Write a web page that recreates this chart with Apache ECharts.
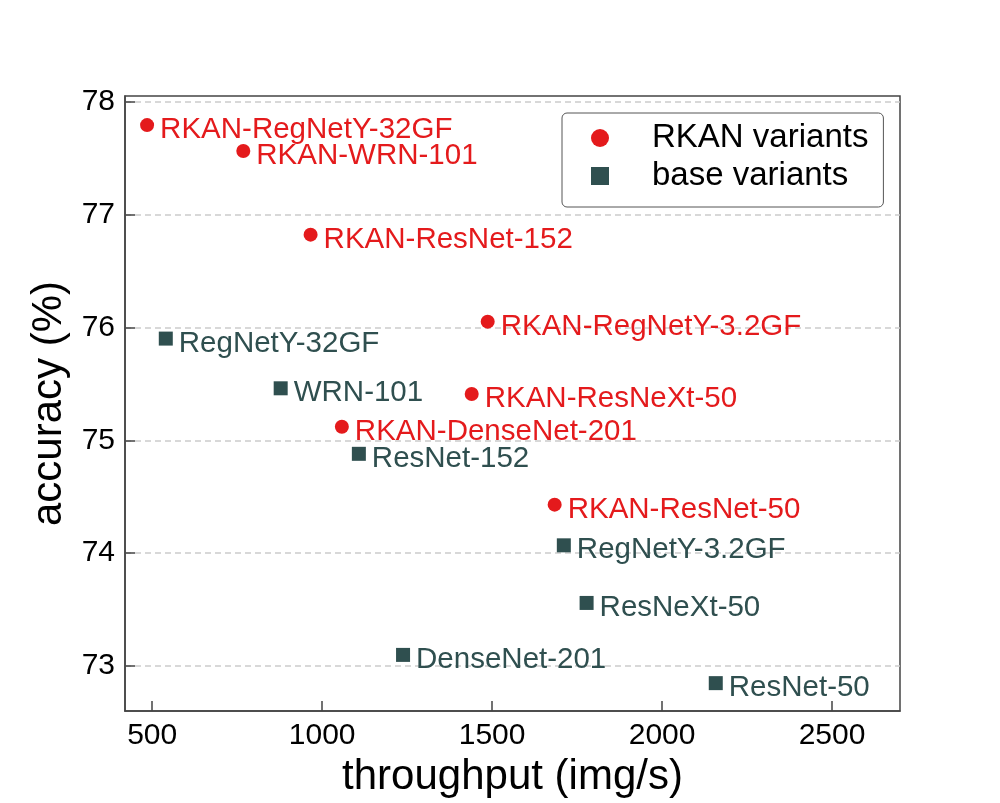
<!DOCTYPE html>
<html>
<head>
<meta charset="utf-8">
<script src="https://cdn.jsdelivr.net/npm/echarts@6/dist/echarts.min.js"></script>
<style>
html, body { margin: 0; padding: 0; background: #fff; }
#main { width: 1000px; height: 803px; }
</style>
</head>
<body>
<div id="main"></div>
<script>
// RKAN variants
var RKAN_NAMES = ['RKAN-RegNetY-32GF', 'RKAN-WRN-101', 'RKAN-ResNet-152', 'RKAN-RegNetY-3.2GF',
    'RKAN-ResNeXt-50', 'RKAN-DenseNet-201', 'RKAN-ResNet-50'];
var RKAN_THROUGHPUT = [485, 768, 966, 1487, 1440, 1058, 1684];
var RKAN_ACCURACY = [77.79, 77.56, 76.82, 76.05, 75.41, 75.12, 74.43];

// base variants
var BASE_NAMES = ['RegNetY-32GF', 'WRN-101', 'ResNet-152', 'RegNetY-3.2GF',
    'ResNeXt-50', 'DenseNet-201', 'ResNet-50'];
var BASE_THROUGHPUT = [540, 878, 1108, 1711, 1778, 1238, 2158];
var BASE_ACCURACY = [75.90, 75.46, 74.88, 74.07, 73.56, 73.10, 72.85];

var X_TICKS = [500, 1000, 1500, 2000, 2500];
var Y_TICKS = [73, 74, 75, 76, 77, 78];

var RED = '#e41a1c';
var DARK = '#2f4f4f';
var FONT = 'Liberation Sans, Arial, sans-serif';

function toPoints(names, xs, ys){
    var out = [];
    for (var i = 0; i < names.length; i++) {
        out.push({name: names[i], value: [xs[i], ys[i]]});
    }
    return out;
}

function scatterSeries(name, symbol, color, data){
    return {
        name: name,
        type: 'scatter',
        symbol: symbol,
        symbolSize: 14,
        itemStyle: {color: color, opacity: 1},
        label: {
            show: true,
            position: 'right',
            distance: 6,
            offset: [0, 5],
            formatter: '{b}',
            color: color,
            opacity: 1,
            fontSize: 29.5,
            fontFamily: FONT
        },
        emphasis: {disabled: true},
        data: data
    };
}

// plain numbers, no thousands separator
function plain(v){ return String(v); }

var myChart = echarts.init(document.getElementById('main'));

var option = {
    animation: false,
    textStyle: {fontFamily: FONT},
    grid: {
        left: 125, right: 100, top: 96, bottom: 91,
        show: true,
        borderColor: '#444',
        borderWidth: 1.5
    },
    legend: {
        orient: 'vertical',
        left: 562,
        top: 113,
        padding: [6, 15, 12, 29],
        itemWidth: 18,
        itemHeight: 18,
        itemGap: 0,
        borderColor: '#555',
        borderWidth: 1,
        borderRadius: 5,
        backgroundColor: 'rgba(255,255,255,0.8)',
        textStyle: {fontSize: 33, lineHeight: 38, color: '#000', padding: [0, 0, 0, 38]},
        data: [
            {name: 'RKAN variants', icon: 'circle'},
            {name: 'base variants', icon: 'rect'}
        ]
    },
    xAxis: {
        type: 'value',
        min: 420,
        max: 2700,
        name: 'throughput (img/s)',
        nameLocation: 'middle',
        nameGap: 38,
        nameTextStyle: {fontSize: 42, color: '#000'},
        axisLine: {show: true, lineStyle: {color: '#444', width: 1.5}},
        axisTick: {show: true, inside: true, length: 10, customValues: X_TICKS,
            lineStyle: {color: '#444', width: 1.5}},
        axisLabel: {customValues: X_TICKS, formatter: plain, fontSize: 30, color: '#000', margin: 10},
        splitLine: {show: false}
    },
    yAxis: {
        type: 'value',
        min: 72.6025,
        max: 78.0475,
        name: 'accuracy (%)',
        nameLocation: 'middle',
        nameGap: 54,
        nameTextStyle: {fontSize: 42, color: '#000'},
        axisLine: {show: true, lineStyle: {color: '#444', width: 1.5}},
        axisTick: {show: true, inside: true, length: 10, customValues: Y_TICKS,
            lineStyle: {color: '#444', width: 1.5}},
        axisLabel: {customValues: Y_TICKS, formatter: plain, fontSize: 30, color: '#000', margin: 10},
        splitLine: {show: true, lineStyle: {color: '#cccccc', width: 1.5, type: [6, 4]}}
    },
    series: [
        scatterSeries('RKAN variants', 'circle', RED, toPoints(RKAN_NAMES, RKAN_THROUGHPUT, RKAN_ACCURACY)),
        scatterSeries('base variants', 'rect', DARK, toPoints(BASE_NAMES, BASE_THROUGHPUT, BASE_ACCURACY))
    ]
};

myChart.setOption(option);
</script>
</body>
</html>
